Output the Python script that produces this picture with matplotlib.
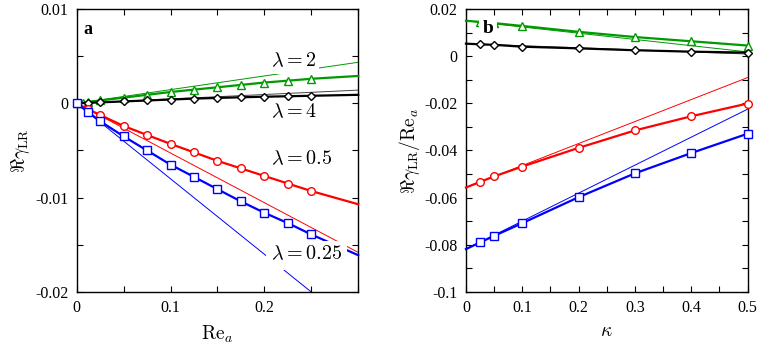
import matplotlib
matplotlib.use("Agg")
import matplotlib.pyplot as plt
import numpy as np

plt.rcParams['font.family'] = ['Liberation Serif', 'DejaVu Serif']
plt.rcParams['mathtext.fontset'] = 'cm'

# ---------------- panel a data ----------------
rea_green = [0, 0.00625, 0.0125, 0.025, 0.05, 0.075, 0.1, 0.125, 0.15, 0.175, 0.2, 0.225, 0.25, 0.275, 0.3]
gam_green = [0, 0.00008, 0.00016, 0.0003, 0.0006, 0.0009, 0.0012, 0.00145, 0.0017, 0.00195, 0.0022, 0.0024, 0.0026, 0.00275, 0.0029]
rea = [0, 0.0125, 0.025, 0.05, 0.075, 0.1, 0.125, 0.15, 0.175, 0.2, 0.225, 0.25, 0.275, 0.3]
gam_black = [0, 0.00005, 0.0001, 0.0002, 0.0003, 0.0004, 0.0005, 0.00057, 0.00064, 0.0007, 0.00075, 0.0008, 0.00085, 0.0009]
gam_red = [0, -0.00064, -0.00124, -0.0024, -0.00336, -0.0043, -0.0052, -0.0061, -0.0069, -0.0077, -0.0085, -0.0093, -0.0100, -0.0107]
gam_blue = [0, -0.00095, -0.0019, -0.0035, -0.005, -0.0065, -0.0078, -0.0091, -0.0104, -0.0116, -0.0127, -0.0139, -0.0150, -0.0161]
n_mark_a = 2  # last two line points carry no marker
# thin (linear) asymptotes, panel a
thin_x_a = [0, 0.3]
thin_green_a = [0, 0.00435]
thin_black_a = [0, 0.0014]
thin_red_a = [0, -0.0158]
thin_blue_a = [0, -0.024]

# ---------------- panel b data ----------------
kappa = [0, 0.025, 0.05, 0.1, 0.2, 0.3, 0.4, 0.5]
g_green = [0.015, 0.0145, 0.014, 0.0128, 0.0103, 0.0081, 0.0063, 0.0045]
g_black = [0.0053, 0.0050, 0.0048, 0.0040, 0.0033, 0.0025, 0.0019, 0.0015]
g_red = [-0.0557, -0.0533, -0.051, -0.0468, -0.0389, -0.0315, -0.0255, -0.0201]
g_blue = [-0.0818, -0.0790, -0.0762, -0.0708, -0.0598, -0.0497, -0.0411, -0.0329]
thin_x_b = [0, 0.5]
thin_green_b = [0.015, 0.0018]
thin_black_b = [0.0053, 0.0009]
thin_red_b = [-0.0557, -0.0091]
thin_blue_b = [-0.0818, -0.0225]

GREEN = '#009900'
RED = '#ff0000'
BLUE = '#0000ff'
BLACK = '#000000'

fig = plt.figure(figsize=(7.63, 3.49), dpi=100)
axa = fig.add_axes([0.1005, 0.1633, 0.369, 0.811])
axb = fig.add_axes([0.6107, 0.1633, 0.369, 0.811])

TW, TH = 0.7, 1.6
MS = 5.5

def thick(ax, x, y, color, marker, every):
    ms = 4.2 if marker == 'D' else MS
    ax.plot(x, y, color=color, lw=TH, marker=marker, ms=ms, mfc='white',
            mec=color, mew=1.0, markevery=every, clip_on=False, zorder=3)

def thin(ax, x, y, color):
    ax.plot(x, y, color=color, lw=TW, zorder=2)

# panel a
thin(axa, thin_x_a, thin_green_a, GREEN)
thin(axa, thin_x_a, thin_black_a, '#444444')
thin(axa, thin_x_a, thin_red_a, RED)
thin(axa, thin_x_a, thin_blue_a, BLUE)
thick(axa, rea_green, gam_green, GREEN, '^', slice(0, len(rea_green) - n_mark_a))
thick(axa, rea, gam_black, BLACK, 'D', slice(0, len(rea) - n_mark_a))
thick(axa, rea, gam_red, RED, 'o', slice(0, len(rea) - n_mark_a))
thick(axa, rea, gam_blue, BLUE, 's', slice(0, len(rea) - n_mark_a))

axa.set_xlim(0, 0.3)
axa.set_ylim(-0.02, 0.01)
axa.set_xticks(np.arange(0, 0.3001, 0.05))
axa.set_xticklabels(['0', '', '0.1', '', '0.2', '', ''])
axa.set_yticks(np.arange(-0.02, 0.01001, 0.005))
axa.set_yticklabels(['-0.02', '', '-0.01', '', '0', '', '0.01'])
axa.set_xlabel(r'${\rm Re}_a$', fontsize=14, labelpad=5)
axa.set_ylabel(r'$\Re\gamma_{\rm LR}$', fontsize=14, labelpad=2)

LFS = 14.5
bb = dict(facecolor='white', edgecolor='none', pad=2.0)
axa.text(0.207, 0.0044, r'$\lambda = 2$', fontsize=LFS, va='center', ha='left', bbox=bb, zorder=5)
axa.text(0.207, -0.00105, r'$\lambda = 4$', fontsize=LFS, va='center', ha='left', bbox=bb, zorder=5)
axa.text(0.207, -0.006, r'$\lambda = 0.5$', fontsize=LFS, va='center', ha='left', bbox=bb, zorder=5)
axa.text(0.207, -0.0161, r'$\lambda = 0.25$', fontsize=LFS, va='center', ha='left',
         bbox=dict(facecolor='white', edgecolor='none', pad=3.5), zorder=5)
axa.text(0.0115, 0.0078, 'a', fontsize=13, fontweight='bold', va='center', ha='center', zorder=5)

# panel b
thin(axb, thin_x_b, thin_green_b, GREEN)
thin(axb, thin_x_b, thin_black_b, '#444444')
thin(axb, thin_x_b, thin_red_b, RED)
thin(axb, thin_x_b, thin_blue_b, BLUE)
thick(axb, kappa, g_green, GREEN, '^', slice(1, None))
thick(axb, kappa, g_black, BLACK, 'D', slice(1, None))
thick(axb, kappa, g_red, RED, 'o', slice(1, None))
thick(axb, kappa, g_blue, BLUE, 's', slice(1, None))

axb.set_xlim(0, 0.5)
axb.set_ylim(-0.1, 0.02)
axb.set_xticks(np.arange(0, 0.5001, 0.05))
axb.set_xticklabels(['0', '', '0.1', '', '0.2', '', '0.3', '', '0.4', '', '0.5'])
axb.set_yticks(np.arange(-0.1, 0.02001, 0.01))
ylab_b = []
for v in np.arange(-0.1, 0.02001, 0.01):
    k = int(round(v * 100))
    if k % 2 == 0:
        ylab_b.append('0' if k == 0 else ('-0.1' if k == -10 else '%g' % (k / 100)))
    else:
        ylab_b.append('')
axb.set_yticklabels(ylab_b)
axb.set_xlabel(r'$\kappa$', fontsize=14, labelpad=5)
axb.set_ylabel(r'$\Re\gamma_{\rm LR}/{\rm Re}_a$', fontsize=14, labelpad=2)
axb.text(0.039, 0.0119, 'b', fontsize=14, fontweight='bold', va='center', ha='center',
         bbox=dict(facecolor='white', edgecolor='none', pad=2.5), zorder=5)

for ax in (axa, axb):
    ax.tick_params(direction='in', length=4, width=0.8, top=True, right=True,
                   labelsize=11.5, pad=6)
    for s in ax.spines.values():
        s.set_linewidth(1.0)

fig.savefig('out.png', dpi=100)
